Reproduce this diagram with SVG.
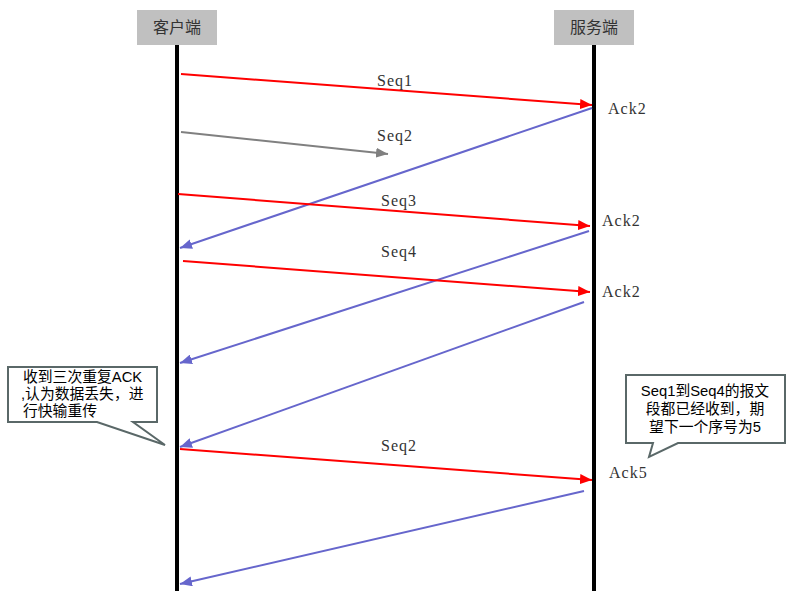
<svg xmlns="http://www.w3.org/2000/svg" width="791" height="591" viewBox="0 0 791 591">
<style>
.hdr{fill:#c0c0c0}
.hdrt{font-family:"Liberation Sans","Noto Sans CJK SC",sans-serif;font-size:16px;fill:#333;text-anchor:middle}
.life{stroke:#000;stroke-width:4}
.lbl{font-family:"Liberation Serif","Noto Sans CJK SC",serif;font-size:16px;letter-spacing:1px;fill:#333}
.red{stroke:#ff0000;stroke-width:2;fill:none}
.gray{stroke:#808080;stroke-width:2;fill:none}
.blue{stroke:#6666cc;stroke-width:2;fill:none}
.call{fill:#fff;stroke:#5a6868;stroke-width:2}
.ct{font-family:"Liberation Sans","Noto Sans CJK SC",sans-serif;font-size:14.8px;fill:#000}
</style>
<defs>
<marker id="ar" viewBox="0 0 12 10" refX="12" refY="5" markerWidth="12" markerHeight="10" markerUnits="userSpaceOnUse" orient="auto"><path d="M0,0 L12,5 L0,10 z" fill="#ff0000"/></marker>
<marker id="ag" viewBox="0 0 12 10" refX="12" refY="5" markerWidth="12" markerHeight="10" markerUnits="userSpaceOnUse" orient="auto"><path d="M0,0 L12,5 L0,10 z" fill="#808080"/></marker>
<marker id="ab" viewBox="0 0 12 10" refX="12" refY="5" markerWidth="12" markerHeight="10" markerUnits="userSpaceOnUse" orient="auto"><path d="M0,0 L12,5 L0,10 z" fill="#6666cc"/></marker>
</defs>
<rect width="791" height="591" fill="#fff"/>
<g id="client">
<rect class="hdr" x="137" y="10" width="80" height="35"/>
<text class="hdrt" x="177" y="33">客户端</text>
<line class="life" x1="177" y1="45" x2="177" y2="591"/>
</g>
<g id="server">
<rect class="hdr" x="554" y="10" width="80" height="35"/>
<text class="hdrt" x="594" y="33">服务端</text>
<line class="life" x1="594" y1="45" x2="594" y2="591"/>
</g>
<g id="connectors">
<line class="red" x1="181" y1="74" x2="592" y2="105" marker-end="url(#ar)"/>
<line class="gray" x1="181" y1="132" x2="388" y2="154" marker-end="url(#ag)"/>
<line class="blue" x1="592" y1="108" x2="180" y2="248" marker-end="url(#ab)"/>
<line class="red" x1="178" y1="194" x2="590" y2="226" marker-end="url(#ar)"/>
<line class="blue" x1="589" y1="231" x2="180" y2="363" marker-end="url(#ab)"/>
<line class="red" x1="183" y1="261" x2="590" y2="292" marker-end="url(#ar)"/>
<line class="blue" x1="584" y1="302" x2="180" y2="447" marker-end="url(#ab)"/>
<line class="red" x1="180" y1="449" x2="592" y2="480" marker-end="url(#ar)"/>
<line class="blue" x1="584" y1="491" x2="180" y2="584" marker-end="url(#ab)"/>
</g>
<g id="labels">
<text class="lbl" x="377" y="86">Seq1</text>
<text class="lbl" x="377" y="141">Seq2</text>
<text class="lbl" x="381" y="206">Seq3</text>
<text class="lbl" x="381" y="257">Seq4</text>
<text class="lbl" x="381" y="451">Seq2</text>
<text class="lbl" x="608" y="114">Ack2</text>
<text class="lbl" x="602" y="226">Ack2</text>
<text class="lbl" x="602" y="297">Ack2</text>
<text class="lbl" x="609" y="478">Ack5</text>
</g>
<g id="note-left">
<path class="call" d="M8,367 H157 V422 H133 L165,445 L97,422 H8 Z"/>
<text class="ct" x="23" y="382">收到三次重复ACK</text>
<text class="ct" x="21" y="399">,认为数据丢失，进</text>
<text class="ct" x="23" y="416">行快输重传</text>
</g>
<g id="note-right">
<path class="call" d="M626,375 H785 V443 H678 L649,457 L653,443 H626 Z"/>
<text class="ct" x="705" y="396" text-anchor="middle">Seq1到Seq4的报文</text>
<text class="ct" x="705" y="414" text-anchor="middle">段都已经收到，期</text>
<text class="ct" x="705" y="432" text-anchor="middle">望下一个序号为5</text>
</g>
</svg>
